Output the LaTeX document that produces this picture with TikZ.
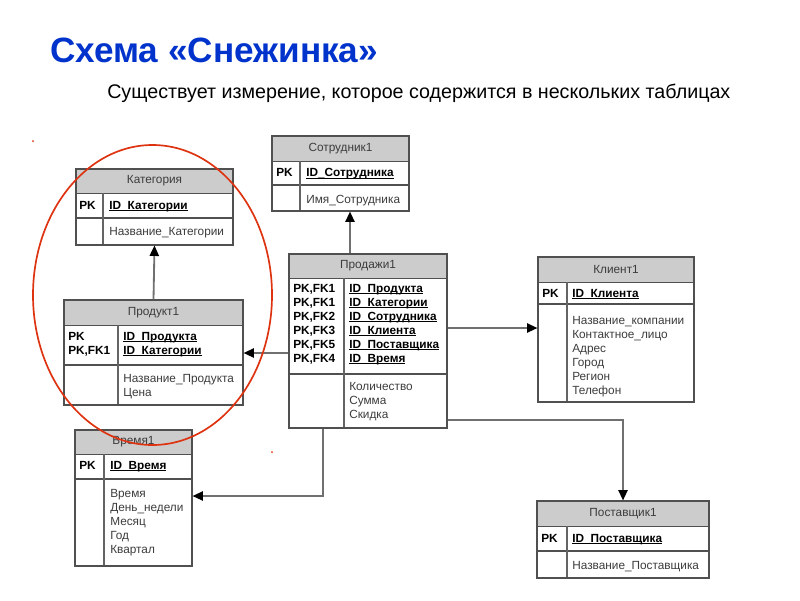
\documentclass[tikz,border=0pt]{standalone}
\usepackage{fontspec}
\setmainfont{Liberation Sans}
\usetikzlibrary{arrows.meta}
\usetikzlibrary{calc}
\usetikzlibrary{fit}

\definecolor{titleblue}{RGB}{0,51,204}
\definecolor{hdrgray}{RGB}{204,204,204}
\definecolor{boxgray}{RGB}{80,80,80}
\definecolor{divgray}{RGB}{100,100,100}
\definecolor{txtgray}{RGB}{60,60,60}
\definecolor{linkgray}{RGB}{112,112,112}
\definecolor{ringred}{RGB}{221,51,17}

\newcommand\tblfont{\fontsize{8.4}{9.9}\selectfont}
\newsavebox\keybox
\newcommand\keyul[1]{\sbox\keybox{#1}\rlap{\rule[-1.3pt]{\wd\keybox}{0.6pt}}\usebox\keybox}

% table: name, x1, y1, x2, y2, header bottom, key bottom, divider x, title
\newcommand\ertable[9]{%
  \fill[hdrfill] (#2,#3) rectangle (#4,#6);
  \draw[rowline] (#2,#6) -- (#4,#6);
  \draw[keyline] (#2,#7) -- (#4,#7);
  \draw[divline] (#8,#6) -- (#8,#5);
  \node[tblbox, fit={(#2,#3) (#4,#5)}] (#1) {};
  \node[hdrtext] (#1-h) at ($(#2,#3)!.5!(#4,#6)$) {#9};
}

\tikzset{
  tblbox/.style={draw=boxgray, line width=0.8pt, inner sep=0pt},
  hdrfill/.style={fill=hdrgray},
  rowline/.style={draw=boxgray, line width=0.6pt},
  keyline/.style={draw=boxgray, line width=1.4pt},
  divline/.style={draw=divgray, line width=1.6pt},
  hdrtext/.style={font=\tblfont, text=txtgray, inner sep=0pt},
  keytext/.style={anchor=north west, inner sep=0pt, align=left, font=\tblfont\bfseries},
  attrtext/.style={anchor=north west, inner sep=0pt, align=left, font=\tblfont, text=txtgray},
  fk/.style={draw=linkgray, line width=1.3pt, -{Triangle[length=2.6mm,width=2.3mm,color=black]}},
}

\begin{document}
\begin{tikzpicture}[x=0.025cm, y=-0.025cm]
	\useasboundingbox (0,0) rectangle (800,600);

	%Titles
	\node[anchor=base west, inner sep=0pt, text=titleblue, font=\fontsize{25}{28}\selectfont\bfseries] (title) at (50,62) {Схема «Снежинка»};
	\node[anchor=base west, inner sep=0pt, font=\fontsize{14}{16}\selectfont] (sub) at (107,98) {Существует измерение, которое содержится в нескольких таблицах};

	%Kategoriya
	\ertable{kat}{76}{169}{233}{245}{193}{218}{103}{Категория}
	\node[keytext] (kat-k) at (79,201) {PK};
	\node[keytext] (kat-f) at (109,201) {\keyul{ID\_Категории}};
	\node[attrtext] (kat-a) at (109,227) {Название\_Категории};

	%Produkt
	\ertable{prod}{64}{300}{243}{405}{325}{365}{118}{Продукт1}
	\node[keytext] (prod-k) at (68,332) {PK\\PK,FK1};
	\node[keytext] (prod-f) at (123,332) {\keyul{ID\_Продукта}\\\keyul{ID\_Категории}};
	\node[attrtext] (prod-a) at (123,374) {Название\_Продукта\\Цена};

	%Sotrudnik
	\ertable{sotr}{272}{136}{409}{211}{161}{185}{300}{Сотрудник1}
	\node[keytext] (sotr-k) at (276,168) {PK};
	\node[keytext] (sotr-f) at (306,168) {\keyul{ID\_Сотрудника}};
	\node[attrtext] (sotr-a) at (306,195) {Имя\_Сотрудника};

	%Prodazhi (facts)
	\ertable{sales}{289}{254}{447}{428}{278}{374}{344}{Продажи1}
	\node[keytext] (sales-k) at (293,284) {PK,FK1\\PK,FK1\\PK,FK2\\PK,FK3\\PK,FK5\\PK,FK4};
	\node[keytext] (sales-f) at (349,284) {\keyul{ID\_Продукта}\\\keyul{ID\_Категории}\\\keyul{ID\_Сотрудника}\\\keyul{ID\_Клиента}\\\keyul{ID\_Поставщика}\\\keyul{ID\_Время}};
	\node[attrtext] (sales-a) at (349,382) {Количество\\Сумма\\Скидка};

	%Klient
	\ertable{kli}{538}{257}{694}{402}{282}{304}{567}{Клиент1}
	\node[keytext] (kli-k) at (542,289) {PK};
	\node[keytext] (kli-f) at (572,289) {\keyul{ID\_Клиента}};
	\node[attrtext] (kli-a) at (572,316) {Название\_компании\\Контактное\_лицо\\Адрес\\Город\\Регион\\Телефон};

	%Vremya
	\ertable{vrem}{75}{430}{192}{566}{454}{479}{104}{Время1}
	\node[keytext] (vrem-k) at (79,461) {PK};
	\node[keytext] (vrem-f) at (110,461) {\keyul{ID\_Время}};
	\node[attrtext] (vrem-a) at (110,489) {Время\\День\_недели\\Месяц\\Год\\Квартал};

	%Postavshik
	\ertable{post}{537}{501}{709}{578}{526}{551}{567}{Поставщик1}
	\node[keytext] (post-k) at (541,534) {PK};
	\node[keytext] (post-f) at (572,534) {\keyul{ID\_Поставщика}};
	\node[attrtext] (post-a) at (572,561) {Название\_Поставщика};

	%Links
	\coordinate (upS) at (350,0);
	\coordinate (lvlP) at (0,353);
	\coordinate (lvlK) at (0,328);
	\coordinate (bendT) at (323,496);
	\coordinate (bendP) at (623,420);
	\draw[fk] (prod.north) -- (kat.south);
	\draw[fk] (sales.north -| upS) -- (sotr.south -| upS);
	\draw[fk] (sales.west |- lvlP) -- (prod.east |- lvlP);
	\draw[fk] (sales.east |- lvlK) -- (kli.west |- lvlK);
	\draw[fk] (sales.south -| bendT) -- (bendT) -- (vrem.east |- bendT);
	\draw[fk] (sales.east |- bendP) -- (bendP) -- (post.north -| bendP);

	%Ring
	\draw[ringred, line width=1.2pt] (152.5,295) ellipse [x radius=119.5, y radius=150];
	\fill[ringred] (33,141) circle [radius=1];
	\fill[ringred] (272,452) circle [radius=1];
\end{tikzpicture}
\end{document}
